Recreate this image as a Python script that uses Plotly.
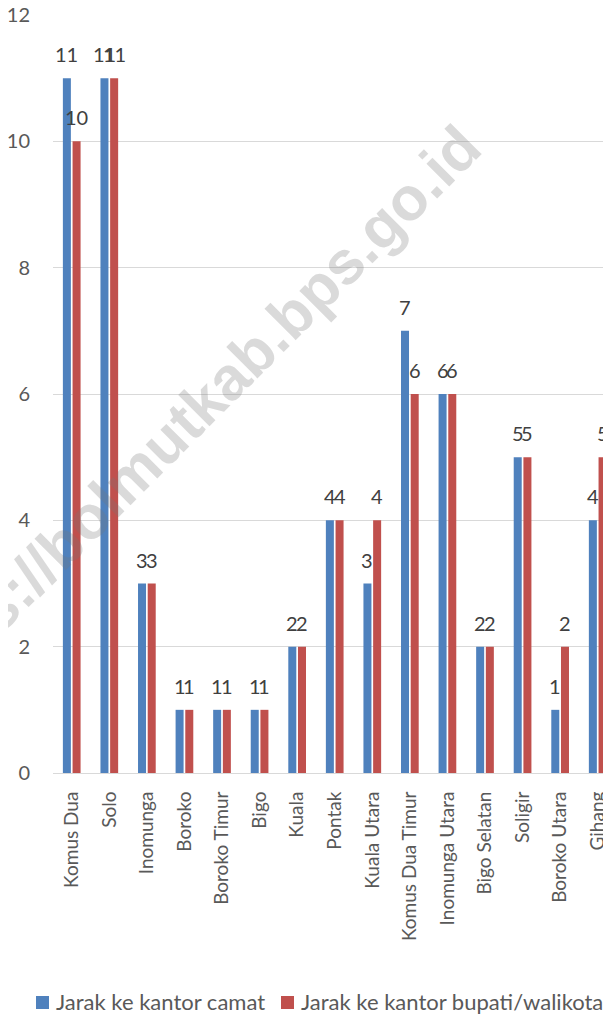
import plotly.graph_objects as go

categories = ["Komus Dua", "Solo", "Inomunga", "Boroko", "Boroko Timur", "Bigo", "Kuala",
              "Pontak", "Kuala Utara", "Komus Dua Timur", "Inomunga Utara", "Bigo Selatan",
              "Soligir", "Boroko Utara", "Gihang"]
camat = [11, 11, 3, 1, 1, 1, 2, 4, 3, 7, 6, 2, 5, 1, 4]
bupati = [10, 11, 3, 1, 1, 1, 2, 4, 4, 6, 6, 2, 5, 2, 5]
series_names = ["Jarak ke kantor camat", "Jarak ke kantor bupati/walikota"]
y_ticks = [0, 2, 4, 6, 8, 10, 12]

# page body has an 8px margin; the figure is sized so it ends at the window edge
OFF = 8
W, H = 611 - OFF, 1014 - OFF
FONT = "Lato"
BLUE = "#4F81BD"
RED = "#C0504D"
COLORS = [BLUE, RED]
L, T, B = 53 - OFF, 15 - OFF, 241
PH = H - T - B
PW = W - L
X0_WIN, Y0_WIN = 53, 773  # plot-area bottom-left corner in window pixels


def px_x(px):
    return (px - X0_WIN) / PW


def px_y(py):
    return (Y0_WIN - py) / PH


bar_w = 0.213
off_blue = -0.237
off_red = 0.021

idx = list(range(len(categories)))

fig = go.Figure()
fig.add_trace(go.Bar(x=idx, y=camat, name=series_names[0], marker=dict(color=BLUE, line=dict(width=0)),
                     width=bar_w, offset=off_blue, showlegend=False))
fig.add_trace(go.Bar(x=idx, y=bupati, name=series_names[1], marker=dict(color=RED, line=dict(width=0)),
                     width=bar_w, offset=off_red, showlegend=False))

annotations = []
for i, (a, b) in enumerate(zip(camat, bupati)):
    annotations.append(dict(x=i + off_blue + bar_w / 2, y=a, xref="x", yref="y", text=str(a),
                            showarrow=False, yshift=24, yanchor="middle",
                            font=dict(family=FONT, size=20, color="#404040")))
    annotations.append(dict(x=i + off_red + bar_w / 2, y=b, xref="x", yref="y", text=str(b),
                            showarrow=False, yshift=24, yanchor="middle",
                            font=dict(family=FONT, size=20, color="#404040")))

# watermark (centre given in window pixels)
wm_x, wm_y = 187, 419
annotations.append(dict(text="<b>https://bolmutkab.bps.go.id</b>", xref="paper", yref="paper",
                        x=px_x(wm_x), y=px_y(wm_y),
                        showarrow=False, textangle=-45,
                        font=dict(family="Liberation Sans", size=61, color="rgba(120,120,120,0.27)"),
                        xanchor="center", yanchor="middle"))

# legend drawn at the bottom (square swatch + label for each series)
shapes = []
legend_sq_x = [36, 281]
legend_txt_x = [54, 299]
for name, col, sx, tx in zip(series_names, COLORS, legend_sq_x, legend_txt_x):
    shapes.append(dict(type="rect", xref="paper", yref="paper",
                       x0=px_x(sx), x1=px_x(sx + 13), y0=px_y(1009), y1=px_y(996),
                       fillcolor=col, line=dict(width=0)))
    annotations.append(dict(text=name, xref="paper", yref="paper", x=px_x(tx), y=px_y(1001),
                            xanchor="left", yanchor="middle", showarrow=False,
                            font=dict(family=FONT, size=22, color="#595959")))

fig.update_layout(
    width=W, height=H,
    margin=dict(l=L, r=0, t=T, b=B, pad=0, autoexpand=False),
    paper_bgcolor="white", plot_bgcolor="white",
    barmode="overlay",
    showlegend=False,
    annotations=annotations,
    shapes=shapes,
    xaxis=dict(tickmode="array", tickvals=idx, ticktext=categories, tickangle=-90,
               range=[-0.5, PW / 37.57 - 0.5], automargin=False,
               showgrid=False, showline=True, linecolor="#D9D9D9", linewidth=1,
               ticks="", ticklabelstandoff=10, ticklabeloverflow="allow",
               tickfont=dict(family=FONT, size=19, color="#595959")),
    yaxis=dict(range=[0, 12], tickvals=y_ticks, showgrid=True, gridcolor="#D9D9D9", gridwidth=1,
               automargin=False, ticklabeloverflow="allow",
               zeroline=False, showline=False, ticks="", ticklabelstandoff=22,
               tickfont=dict(family=FONT, size=20, color="#595959")),
)

fig.write_html("out.html")
